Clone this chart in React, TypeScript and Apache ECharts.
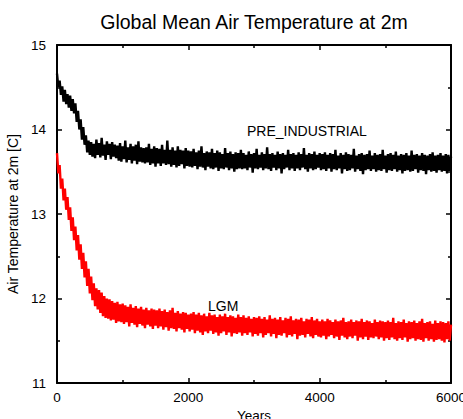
import React, { useEffect, useRef } from "react";
import * as echarts from "echarts";

const TITLE = "Global Mean Air Temperature at 2m";
const X_NAME = "Years";
const Y_NAME = "Air Temperature at 2m [C]";
const YEAR_STEP = 20;
const X_TICKS = { min: 0, max: 6000, interval: 2000 };
const Y_TICKS = { min: 11, max: 15, interval: 1 };
const LABEL_PRE = "PRE_INDUSTRIAL";
const LABEL_LGM = "LGM";

// PRE_INDUSTRIAL global mean 2m air temperature, every 20 years (0..6000)
const PRE_INDUSTRIAL = [
  14.66, 14.50, 14.58, 14.41, 14.51, 14.33, 14.47, 14.30, 14.42, 14.26, 14.40, 14.22, 14.36, 14.19, 14.31, 14.09, 14.22, 14.00, 14.12, 13.88, 14.03, 13.82, 13.93, 13.73, 13.87, 13.70,
  13.85, 13.68, 13.83, 13.66, 13.88, 13.70, 13.84, 13.67, 13.90, 13.69, 13.82, 13.64, 13.86, 13.70, 13.83, 13.65, 13.85, 13.68, 13.82, 13.66,
  13.81, 13.63, 13.84, 13.62, 13.80, 13.65, 13.87, 13.61, 13.79, 13.64, 13.83, 13.60, 13.80, 13.63, 13.82, 13.59, 13.86, 13.62, 13.79, 13.61,
  13.78, 13.60, 13.79, 13.61, 13.83, 13.58, 13.77, 13.60, 13.80, 13.56, 13.78, 13.60, 13.77, 13.57, 13.82, 13.60, 13.76, 13.58, 13.87, 13.59,
  13.76, 13.56, 13.79, 13.58, 13.75, 13.55, 13.80, 13.57, 13.76, 13.59, 13.75, 13.54, 13.78, 13.57, 13.75,
  13.56, 13.74, 13.55, 13.77, 13.57, 13.73, 13.53, 13.75, 13.56, 13.80, 13.55, 13.72, 13.52, 13.74, 13.56, 13.73, 13.54, 13.77, 13.53, 13.72,
  13.55, 13.75, 13.51, 13.73, 13.54, 13.71, 13.53, 13.78, 13.55, 13.72, 13.52, 13.74, 13.54, 13.71, 13.50, 13.73, 13.53, 13.72, 13.54, 13.76,
  13.53, 13.72, 13.54, 13.70, 13.52, 13.74, 13.55, 13.71, 13.49, 13.72, 13.54, 13.77, 13.53, 13.70, 13.55, 13.73, 13.52, 13.71, 13.54, 13.79,
  13.53, 13.71, 13.51, 13.72, 13.55, 13.70, 13.52, 13.74, 13.54, 13.71, 13.48, 13.72, 13.53, 13.70, 13.55, 13.76, 13.52, 13.71, 13.54, 13.72,
  13.51, 13.70, 13.54, 13.73, 13.52, 13.71, 13.55, 13.78, 13.53, 13.70, 13.50, 13.72, 13.54, 13.71, 13.52, 13.74, 13.53, 13.70, 13.55, 13.72,
  13.52, 13.71, 13.53, 13.73, 13.51, 13.70, 13.54, 13.72, 13.50, 13.71, 13.53, 13.76, 13.52, 13.69, 13.54, 13.72, 13.48, 13.70, 13.53, 13.73,
  13.51, 13.71, 13.52, 13.70, 13.54, 13.77, 13.50, 13.69, 13.53, 13.71, 13.51, 13.72, 13.47, 13.70, 13.52, 13.71, 13.53, 13.75, 13.51, 13.69,
  13.53, 13.72, 13.50, 13.70, 13.52, 13.71, 13.51, 13.76, 13.53, 13.69, 13.49, 13.71, 13.52, 13.72, 13.51, 13.70, 13.53, 13.74, 13.50, 13.69,
  13.52, 13.71, 13.48, 13.70, 13.51, 13.72, 13.52, 13.69, 13.50, 13.75, 13.51, 13.70, 13.53, 13.71, 13.49, 13.69, 13.52, 13.72, 13.51, 13.70,
  13.47, 13.69, 13.52, 13.71, 13.50, 13.73, 13.51, 13.69, 13.49, 13.70, 13.52, 13.72, 13.50, 13.69, 13.51, 13.71, 13.48, 13.70, 13.51, 13.68,
];

// LGM global mean 2m air temperature, every 20 years (0..6000)
const LGM = [
  13.72, 13.48, 13.58, 13.30, 13.42, 13.16, 13.30, 13.05, 13.20, 12.93, 13.08, 12.80, 12.96, 12.69, 12.85, 12.57, 12.75, 12.46, 12.64, 12.35,
  12.54, 12.25, 12.44, 12.15, 12.35, 12.06, 12.26, 11.98, 12.18, 11.91, 12.12, 11.87, 12.10, 11.83, 12.07, 11.79, 12.03, 11.77, 12.00, 11.76, 11.99,
  11.74, 11.97, 11.75, 11.95, 11.71, 11.96, 11.73, 11.93, 11.72, 11.94,
  11.70, 11.92, 11.72, 11.90, 11.67, 11.93, 11.71, 11.89, 11.69, 11.91, 11.66, 11.88, 11.70, 11.90, 11.68, 11.87, 11.65, 11.89, 11.69, 11.86, 11.67, 11.88, 11.64, 11.87, 11.68,
  11.86, 11.65, 11.88, 11.67, 11.85, 11.63, 11.87, 11.66, 11.84, 11.62, 11.86, 11.65, 11.89, 11.64, 11.83, 11.61, 11.85, 11.65, 11.82, 11.63, 11.84, 11.60, 11.83, 11.64, 11.81,
  11.61, 11.82, 11.63, 11.84, 11.59, 11.81, 11.62, 11.83, 11.60, 11.80, 11.57, 11.82, 11.61, 11.79, 11.59, 11.83, 11.62, 11.80, 11.58, 11.81,
  11.60, 11.78, 11.56, 11.81, 11.59, 11.79, 11.61, 11.82, 11.57, 11.78, 11.60, 11.80, 11.55, 11.79, 11.59, 11.77, 11.58, 11.81, 11.60, 11.78,
  11.56, 11.80, 11.59, 11.77, 11.57, 11.79, 11.60, 11.76, 11.55, 11.78,
  11.58, 11.77, 11.56, 11.79, 11.59, 11.76, 11.54, 11.78, 11.57, 11.75, 11.59, 11.80, 11.55, 11.76, 11.58, 11.77, 11.53, 11.75, 11.57, 11.78,
  11.56, 11.74, 11.59, 11.77, 11.54, 11.76, 11.57, 11.79, 11.55, 11.74, 11.58, 11.76, 11.52, 11.75, 11.56, 11.77, 11.57, 11.73, 11.54, 11.76,
  11.58, 11.75, 11.55, 11.78, 11.53, 11.74, 11.57, 11.76, 11.55, 11.73,
  11.54, 11.75, 11.56, 11.73, 11.52, 11.76, 11.55, 11.74, 11.57, 11.72, 11.53, 11.75, 11.55, 11.73, 11.51, 11.74, 11.56, 11.77, 11.54, 11.72,
  11.52, 11.73, 11.55, 11.75, 11.53, 11.72, 11.56, 11.74, 11.50, 11.73, 11.54, 11.76, 11.52, 11.72, 11.55, 11.74, 11.51, 11.73, 11.54, 11.71,
  11.53, 11.75, 11.55, 11.72, 11.52, 11.74, 11.54, 11.73, 11.50, 11.72,
  11.53, 11.74, 11.51, 11.72, 11.54, 11.77, 11.52, 11.71, 11.50, 11.73, 11.53, 11.72, 11.51, 11.75, 11.54, 11.71, 11.49, 11.73, 11.52, 11.72,
  11.53, 11.74, 11.50, 11.71, 11.52, 11.73, 11.51, 11.76, 11.49, 11.71, 11.53, 11.72, 11.50, 11.73, 11.52, 11.70, 11.49, 11.74, 11.51, 11.71,
  11.52, 11.73, 11.50, 11.72, 11.48, 11.71, 11.52, 11.73, 11.50, 11.69,
];

const FONT = "'Liberation Sans', Arial, Helvetica, sans-serif";

function toPairs(values: number[]) {
  return values.map((v, i) => [i * YEAR_STEP, v]);
}

export default function App() {
  const ref = useRef<HTMLDivElement>(null);

  useEffect(() => {
    if (!ref.current) return;
    const chart = echarts.init(ref.current, undefined, { renderer: "svg" });

    const lineStyle = { color: "#000", width: 2 };
    const tickStyle = { color: "#000", width: 1.5 };
    const plain = (v: number) => String(v);

    const xCommon = {
      type: "value" as const,
      min: X_TICKS.min,
      max: X_TICKS.max,
      interval: X_TICKS.interval,
      axisLine: { show: true, onZero: false, lineStyle },
      axisTick: { show: true, inside: true, length: 5, lineStyle: tickStyle },
      minorTick: { show: true, splitNumber: 2, length: 3, lineStyle: tickStyle },
      splitLine: { show: false },
      minorSplitLine: { show: false },
    };
    const yCommon = {
      type: "value" as const,
      min: Y_TICKS.min,
      max: Y_TICKS.max,
      interval: Y_TICKS.interval,
      axisLine: { show: true, onZero: false, lineStyle },
      axisTick: { show: true, inside: true, length: 5, lineStyle: tickStyle },
      minorTick: { show: true, splitNumber: 2, length: 3, lineStyle: tickStyle },
      splitLine: { show: false },
      minorSplitLine: { show: false },
    };

    chart.setOption({
      animation: false,
      backgroundColor: "#fff",
      grid: {
        left: 57,
        right: 12,
        top: 45,
        bottom: 36,
        containLabel: false,
        outerBoundsMode: "none",
      },
      xAxis: [
        {
          ...xCommon,
          position: "bottom",
          name: X_NAME,
          nameLocation: "middle",
          nameGap: 25,
          nameTextStyle: { color: "#000", fontSize: 13.5, fontFamily: FONT },
          axisLabel: { color: "#000", fontSize: 13.5, margin: 7, fontFamily: FONT, formatter: plain },
        },
        { ...xCommon, position: "top", axisLabel: { show: false } },
      ],
      yAxis: [
        {
          ...yCommon,
          position: "left",
          name: Y_NAME,
          nameLocation: "middle",
          nameGap: 32,
          nameTextStyle: { color: "#000", fontSize: 14, fontFamily: FONT },
          axisLabel: { color: "#000", fontSize: 13.5, margin: 11, fontFamily: FONT, formatter: plain },
        },
        { ...yCommon, position: "right", axisLabel: { show: false } },
      ],
      series: [
        {
          name: LABEL_PRE,
          type: "line",
          data: toPairs(PRE_INDUSTRIAL),
          showSymbol: false,
          symbol: "none",
          lineStyle: { color: "#000", width: 2.4 },
          itemStyle: { color: "#000" },
          z: 1,
        },
        {
          name: LABEL_LGM,
          type: "line",
          data: toPairs(LGM),
          showSymbol: false,
          symbol: "none",
          lineStyle: { color: "#ff0000", width: 2.4 },
          itemStyle: { color: "#ff0000" },
          z: 1,
        },
      ],
      graphic: [
        {
          type: "text",
          x: 254,
          y: 22,
          style: {
            text: TITLE,
            fill: "#000",
            font: `19.5px ${FONT}`,
            textAlign: "center",
            textVerticalAlign: "middle",
          },
        },
        {
          type: "text",
          x: 247,
          y: 131,
          style: {
            text: LABEL_PRE,
            fill: "#000",
            font: `14px ${FONT}`,
            textAlign: "left",
            textVerticalAlign: "middle",
          },
        },
        {
          type: "text",
          x: 208,
          y: 306,
          style: {
            text: LABEL_LGM,
            fill: "#000",
            font: `14px ${FONT}`,
            textAlign: "left",
            textVerticalAlign: "middle",
          },
        },
      ],
    });

    return () => chart.dispose();
  }, []);

  return (
    <div
      ref={ref}
      style={{ position: "fixed", left: 0, top: 0, width: 463, height: 419, background: "#fff" }}
    />
  );
}
